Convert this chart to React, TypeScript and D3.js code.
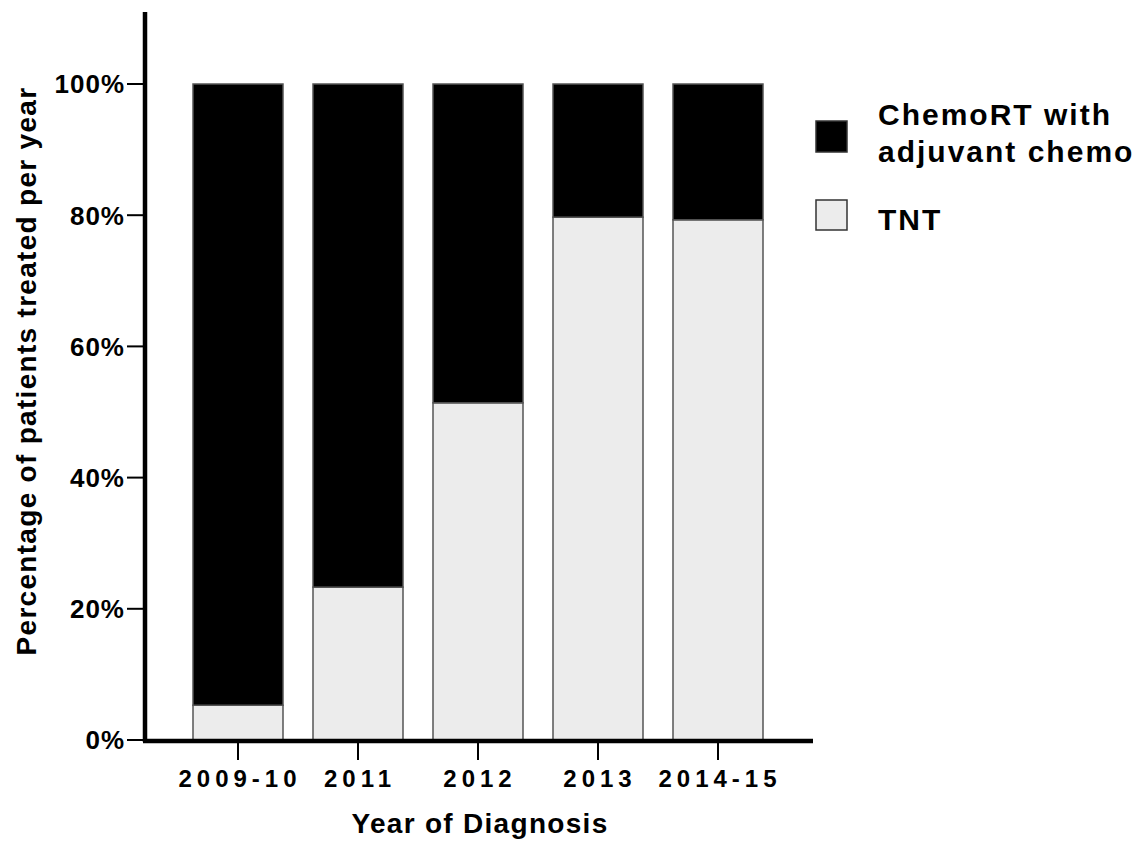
import React from 'react'
import * as d3 from 'd3'

const years = ['2009-10', '2011', '2012', '2013', '2014-15']
const tnt = [0.053, 0.233, 0.514, 0.797, 0.793]
const chemoRT = [0.947, 0.767, 0.486, 0.203, 0.207]
const yTicks = [0, 0.2, 0.4, 0.6, 0.8, 1]
const seriesNames = ['TNT', 'ChemoRT with adjuvant chemo']

const FONT = 'Liberation Sans, Arial, sans-serif'

export default function App() {
  const rows = years.map((y, i) => ({ year: y, tnt: tnt[i], chemo: chemoRT[i] }))
  const stacked = d3.stack<any>().keys(['tnt', 'chemo'])(rows)

  const x = d3.scaleBand()
    .domain(years)
    .range([178, 778])
    .paddingInner(0.25)
    .paddingOuter(0.125)

  const y = d3.scaleLinear()
    .domain([0, 1])
    .range([740, 84])

  const fills = { tnt: '#ececec', chemo: '#000000' }

  return (
    <svg width={1145} height={842} style={{ position: 'absolute', left: 0, top: 0, background: '#fff' }}
      fontFamily={FONT}>
      {/* bars */}
      {stacked.map(s => (
        <g key={s.key}>
          {s.map((d, i) => (
            <rect key={i}
              x={x(years[i])}
              y={y(d[1])}
              width={x.bandwidth()}
              height={y(d[0]) - y(d[1])}
              fill={fills[s.key]}
              stroke="#555"
              strokeWidth={1.5} />
          ))}
        </g>
      ))}

      {/* y axis */}
      <line x1={145} x2={145} y1={12} y2={742} stroke="#000" strokeWidth={4.5} />
      {yTicks.map(t => (
        <g key={t}>
          <line x1={127} x2={145} y1={y(t)} y2={y(t)} stroke="#000" strokeWidth={2} />
          <text x={125} y={y(t)} dy="0.36em" textAnchor="end" fontSize={26} fontWeight="bold" letterSpacing={1}>
            {d3.format('.0%')(t)}
          </text>
        </g>
      ))}

      {/* x axis */}
      <line x1={143} x2={813} y1={741} y2={741} stroke="#000" strokeWidth={4.5} />
      {years.map(c => {
        const cx = (x(c) as number) + x.bandwidth() / 2
        return (
          <g key={c}>
            <line x1={cx} x2={cx} y1={741} y2={760} stroke="#000" strokeWidth={2} />
            <text x={cx + 2} y={787} textAnchor="middle" fontSize={24} fontWeight="bold" letterSpacing={5}>{c}</text>
          </g>
        )
      })}

      <text x={480} y={833} textAnchor="middle" fontSize={28} fontWeight="bold" letterSpacing={1.3}>Year of Diagnosis</text>
      <text transform="translate(36,371) rotate(-90)" textAnchor="middle" fontSize={28} fontWeight="bold" letterSpacing={1.3}>
        Percentage of patients treated per year
      </text>

      {/* legend */}
      <rect x={816} y={121} width={31} height={31} fill="#000" stroke="#333" strokeWidth={1.5} />
      <text x={878} y={125} fontSize={30} fontWeight="bold" letterSpacing={2}>ChemoRT with</text>
      <text x={878} y={162} fontSize={30} fontWeight="bold" letterSpacing={2}>adjuvant chemo</text>
      <rect x={816} y={200} width={31} height={30} fill="#ececec" stroke="#333" strokeWidth={1.5} />
      <text x={878} y={230} fontSize={30} fontWeight="bold" letterSpacing={2}>{seriesNames[0]}</text>
    </svg>
  )
}
